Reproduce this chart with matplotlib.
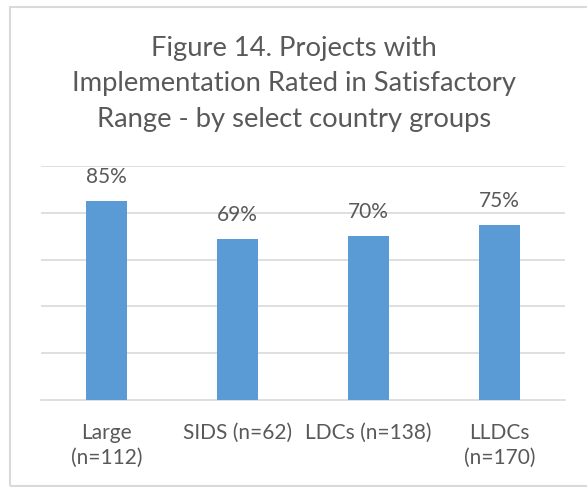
import matplotlib
matplotlib.use("Agg")
import matplotlib.pyplot as plt
from matplotlib.patches import Rectangle

categories = ["Large\n(n=112)", "SIDS (n=62)", "LDCs (n=138)", "LLDCs\n(n=170)"]
values = [0.85, 0.69, 0.70, 0.75]
value_labels = ["85%", "69%", "70%", "75%"]
title = "Figure 14. Projects with\nImplementation Rated in Satisfactory\nRange - by select country groups"

W, H = 587, 487
fig = plt.figure(figsize=(W / 100, H / 100), dpi=100)
plt.rcParams['font.family'] = ['Lato', 'DejaVu Sans']
text_color = "#595959"
grid_color = "#D9D9D9"

# outer frame
fig.add_artist(Rectangle((10 / W, 1 - 486 / H), 1.2, (486 - 7) / H,
                         transform=fig.transFigure, fill=False,
                         edgecolor=grid_color, linewidth=1.5))

ax = fig.add_axes([41 / W, 1 - 400 / H, (565 - 41) / W, (400 - 166) / H])
x = range(len(categories))
ax.bar(x, values, width=0.31, color="#5B9BD5", zorder=3)
ax.set_xlim(-0.5, len(categories) - 0.5)
ax.set_ylim(0, 1.0)
ax.set_yticks([0.2, 0.4, 0.6, 0.8, 1.0])
ax.yaxis.grid(True, color=grid_color, linewidth=1.2, zorder=0)
ax.tick_params(axis='y', left=False, labelleft=False)
ax.tick_params(axis='x', bottom=False, labelsize=15, colors=text_color, pad=13)
ax.set_xticks(list(x))
ax.set_xticklabels(categories, linespacing=1.3)
for s in ["top", "right", "left"]:
    ax.spines[s].set_visible(False)
ax.spines["bottom"].set_color(grid_color)
ax.spines["bottom"].set_linewidth(1.2)

for xi, v, lab in zip(x, values, value_labels):
    ax.annotate(lab, (xi, v), xytext=(0, 10), textcoords="offset points",
                ha="center", va="bottom", fontsize=15, color=text_color)

fig.text(294 / W, 1 - 84 / H, title, ha="center", va="center",
         fontsize=19.7, color=text_color, linespacing=1.52)

fig.savefig("out.png", dpi=100)
